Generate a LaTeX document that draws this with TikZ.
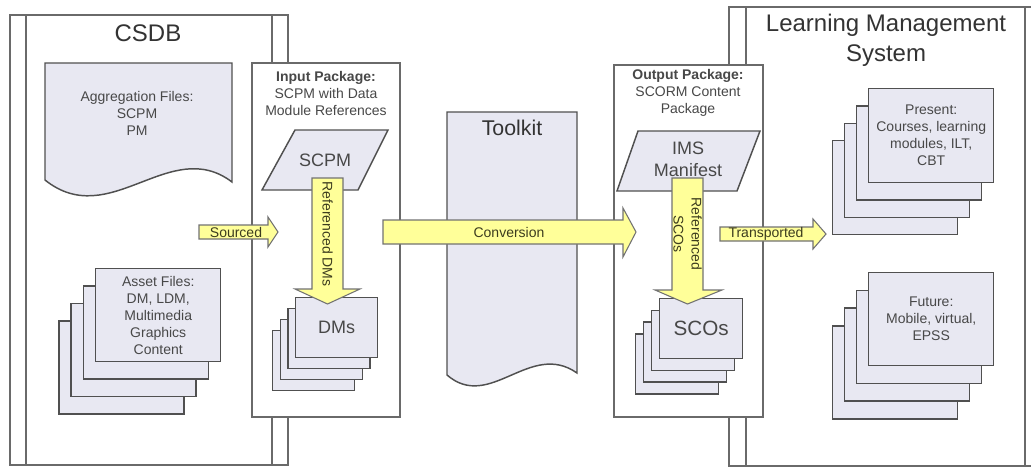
\documentclass[tikz,border=0pt]{standalone}
\usepackage{fontspec}
\setmainfont{Liberation Sans}
\definecolor{boxgray}{HTML}{6A6A6A}
\definecolor{shapegray}{HTML}{505050}
\definecolor{shapefill}{HTML}{E8E8F2}
\definecolor{arrowfill}{HTML}{FFFF99}
\definecolor{arrowgray}{HTML}{727272}
\definecolor{textgray}{HTML}{484848}
\definecolor{arrowtext}{HTML}{3C3C1E}
\definecolor{titlecol}{HTML}{333333}
\newcommand{\cardstack}[9]{%
  \foreach \k in {3,2,1}{%
    \node[card,minimum width=#4*0.75pt,minimum height=#5*0.75pt] (#1\k) at ({#2+\k*(#6)},{#3+\k*(#7)}) {};}
  \node[card,minimum width=#4*0.75pt,minimum height=#5*0.75pt,#8] (#1) at (#2,#3) {#9};}
\begin{document}
\begin{tikzpicture}[x=0.75pt,y=-0.75pt,
  container/.style={draw=boxgray,line width=1.1pt,fill=white},
  divider/.style={draw=boxgray,line width=1.1pt},
  card/.style={draw=shapegray,line width=1.1pt,fill=shapefill,inner sep=0pt,anchor=north west},
  docshape/.style={draw=shapegray,line width=1.1pt,fill=shapefill},
  blockarrow/.style={draw=arrowgray,line width=0.8pt,fill=arrowfill,line join=miter},
  lbl/.style={font=\fontsize{10.5}{12.75}\selectfont,text=textgray,align=center},
  arrlbl/.style={font=\fontsize{10.5}{13.5}\selectfont,text=arrowtext,align=center},
  ttl/.style={font=\fontsize{18}{22.5}\selectfont,text=titlecol,align=center},
  big/.style={font=\fontsize{13.5}{16.5}\selectfont,text=textgray,align=center}]

\useasboundingbox (0,0) rectangle (1031,468);
\fill[white] (0,0) rectangle (1031,468);

% CSDB container
\draw[container] (10,15) rectangle (288,465);
\draw[divider] (26,15) -- (26,465) (272,15) -- (272,465);
\node[ttl] (csdbT) at (148,33) {CSDB};

% LMS container
\begin{scope}
\clip (0,0) rectangle (1031,468);
\draw[container] (729,7) rectangle (1041,466);
\draw[divider] (746,7) -- (746,466) (1025,7) -- (1025,466);
\end{scope}
\node[ttl] (lmsT) at (886,40) {Learning Management\\System};

% Aggregation files document
\draw[docshape] (45,63) -- (232,63) -- (232,182) .. controls (170,135) and (110,232) .. (45,180) -- cycle;
\node[lbl] (aggT) at (137,113) {Aggregation Files:\\SCPM\\PM};

% Asset files stack
\cardstack{asset}{95}{268}{125}{93}{-12.3}{17.4}{lbl}{Asset Files:\\DM, LDM,\\Multimedia\\Graphics\\Content}

% Input package
\draw[container] (252,63) rectangle (400,417);
\node[lbl] (inT) at (326,93) {\textbf{Input Package:}\\SCPM with Data\\Module References};
\draw[docshape] (295,130) -- (388,130) -- (358,190) -- (262,190) -- cycle;
\node[big] (scpm) at (325,160) {SCPM};
\cardstack{dms}{295}{297}{82}{60}{-7.7}{11}{big}{DMs}
\draw[blockarrow] (312,178) -- (343,178) -- (343,289) -- (360,289) -- (327.5,304) -- (295,289) -- (312,289) -- cycle;
\node[arrlbl,rotate=-90] (refDM) at (327.5,234) {Referenced DMs};

% Toolkit
\draw[docshape] (447,112) -- (577,112) -- (577,373) .. controls (530,340) and (490,412) .. (447,375) -- cycle;
\node[font=\fontsize{16}{19}\selectfont,text=titlecol] (toolT) at (512,128) {Toolkit};

% Output package
\draw[container] (614,65) rectangle (763,417);
\node[lbl] (outT) at (688,93) {\textbf{Output Package:}\\SCORM Content\\Package};
\draw[docshape] (638,131) -- (760,131) -- (737,191) -- (617,191) -- cycle;
\node[big] (ims) at (688,159) {IMS\\Manifest};
\cardstack{scos}{659}{298}{83}{60}{-8}{11.7}{font=\fontsize{15.5}{18}\selectfont,text=textgray}{SCOs}
\draw[blockarrow] (672,178) -- (703,178) -- (703,290) -- (722,290) -- (687.5,304) -- (655,290) -- (672,290) -- cycle;
\node[arrlbl,rotate=-90] (refSCO) at (687.5,234) {Referenced\\SCOs};

% LMS content
\cardstack{present}{868}{88}{125}{94}{-12}{17.3}{lbl}{Present:\\Courses, learning\\modules, ILT,\\CBT}
\cardstack{future}{868}{272}{125}{93}{-12}{17.7}{lbl}{Future:\\Mobile, virtual,\\EPSS}

% Horizontal block arrows
\draw[blockarrow] (199,225) -- (268,225) -- (268,217) -- (278,232) -- (268,247) -- (268,239) -- (199,239) -- cycle;
\node[arrlbl] (srcT) at (236,232) {Sourced};
\draw[blockarrow] (383,220) -- (623,220) -- (623,208) -- (636,232) -- (623,257) -- (623,244) -- (383,244) -- cycle;
\node[arrlbl] (convT) at (509,232) {Conversion};
\draw[blockarrow] (720,227) -- (813,227) -- (813,219) -- (826,234) -- (813,249) -- (813,241) -- (720,241) -- cycle;
\node[arrlbl] (trT) at (766,234) {Transported};
\end{tikzpicture}
\end{document}
